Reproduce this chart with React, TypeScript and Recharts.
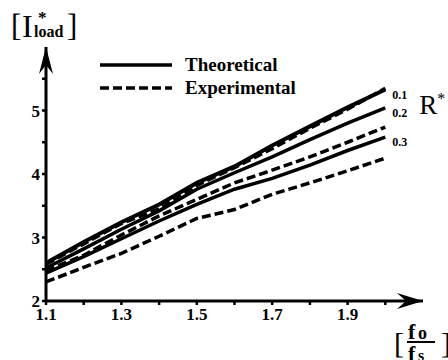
import React from 'react';
import {
  LineChart,
  Line,
  XAxis,
  YAxis,
  Legend,
  LabelList,
  ReferenceDot,
} from 'recharts';

const FONT = '"Liberation Serif", "Times New Roman", serif';

// frequency ratio fo/fs
const FREQ = [1.1, 1.2, 1.3, 1.4, 1.5, 1.6, 1.7, 1.8, 1.9, 2.0];

// normalised load current, R* = 0.1 / 0.2 / 0.3
const THEO_01 = [2.6, 2.93, 3.24, 3.52, 3.86, 4.12, 4.45, 4.75, 5.05, 5.33];
const EXP_01 = [2.58, 2.9, 3.22, 3.45, 3.82, 4.1, 4.4, 4.72, 5.02, 5.35];
const THEO_02 = [2.52, 2.82, 3.13, 3.42, 3.76, 4.02, 4.27, 4.54, 4.8, 5.04];
const EXP_02 = [2.48, 2.72, 3.04, 3.34, 3.6, 3.86, 4.06, 4.27, 4.5, 4.74];
const THEO_03 = [2.44, 2.7, 2.98, 3.26, 3.52, 3.76, 3.93, 4.14, 4.37, 4.58];
const EXP_03 = [2.3, 2.53, 2.75, 3.02, 3.3, 3.44, 3.68, 3.86, 4.05, 4.25];

const X_TICKS = [1.1, 1.2, 1.3, 1.4, 1.5, 1.6, 1.7, 1.8, 1.9, 2.0];
const X_LABELS = ['1.1', '1.3', '1.5', '1.7', '1.9'];
const Y_TICKS = [2, 2.5, 3, 3.5, 4, 4.5, 5, 5.5];
const Y_LABELS = ['2', '3', '4', '5'];

const data = FREQ.map((x, i) => ({
  x,
  t1: THEO_01[i],
  e1: EXP_01[i],
  t2: THEO_02[i],
  e2: EXP_02[i],
  t3: THEO_03[i],
  e3: EXP_03[i],
}));

const tickStyle = { fontFamily: FONT, fontSize: 17, fontWeight: 'bold', fill: '#000' };
const DASH = '9 4';

const endLabel = (text: string, withR = false) => (props: any) => {
  const { x, y, index } = props;
  if (index !== FREQ.length - 1) return null;
  return (
    <g>
      <text x={x + 7} y={y + 9} fontFamily={FONT} fontSize={12} fontWeight="bold" fill="#000">
        {text}
      </text>
      {withR && (
        <text x={x + 34} y={y + 6} fontFamily={FONT} fontSize={27} fill="#000">
          R<tspan dy={-10} fontSize={16}>*</tspan>
        </text>
      )}
    </g>
  );
};

const RightArrow = (props: any) => {
  const { cx, cy } = props;
  return (
    <path
      d={`M${cx},${cy} L${cx - 26},${cy - 8} L${cx - 17},${cy} L${cx - 26},${cy + 8} Z`}
      fill="#000"
    />
  );
};

const UpArrow = (props: any) => {
  const { cx, cy } = props;
  return (
    <path
      d={`M${cx},${cy} L${cx - 7},${cy + 27} L${cx},${cy + 18} L${cx + 7},${cy + 27} Z`}
      fill="#000"
    />
  );
};

const LegendBox = () => (
  <div style={{ fontFamily: FONT, fontSize: 19, fontWeight: 'bold', color: '#000' }}>
    {[
      { name: 'Theoretical', dash: undefined },
      { name: 'Experimental', dash: DASH },
    ].map((item) => (
      <div key={item.name} style={{ display: 'flex', alignItems: 'center', height: 23 }}>
        <svg width={72} height={6}>
          <line x1={0} y1={3} x2={72} y2={3} stroke="#000" strokeWidth={3.5} strokeDasharray={item.dash} />
        </svg>
        <span style={{ marginLeft: 13 }}>{item.name}</span>
      </div>
    ))}
  </div>
);

export default function App() {
  return (
    <div style={{ position: 'absolute', left: 0, top: 0, width: 448, height: 360, background: '#fff', overflow: 'hidden' }}>
      <LineChart width={448} height={360} data={data} margin={{ top: 47, right: 25, bottom: 29, left: 10 }}>
        <XAxis
          dataKey="x"
          type="number"
          domain={[1.1, 2.1]}
          ticks={X_TICKS}
          tickFormatter={(v: number) => (X_LABELS.includes(v.toFixed(1)) ? v.toFixed(1) : '')}
          axisLine={{ stroke: '#000', strokeWidth: 3 }}
          tickLine={{ stroke: '#000', strokeWidth: 2.5 }}
          tickSize={4}
          tickMargin={3}
          tick={tickStyle}
          height={30}
          interval={0}
        />
        <YAxis
          type="number"
          domain={[2, 6]}
          ticks={Y_TICKS}
          tickFormatter={(v: number) => (Y_LABELS.includes(String(v)) ? String(v) : '')}
          axisLine={{ stroke: '#000', strokeWidth: 3 }}
          tickLine={{ stroke: '#000', strokeWidth: 2.5 }}
          tickSize={4}
          tickMargin={2}
          tick={tickStyle}
          width={36}
          interval={0}
        />
        <Legend
          content={<LegendBox />}
          layout="horizontal"
          verticalAlign="middle"
          align="center"
          wrapperStyle={{ position: 'absolute', top: 53, left: 100, width: 240 }}
        />
        <Line dataKey="e3" stroke="#000" strokeWidth={3.5} strokeDasharray={DASH} dot={false} isAnimationActive={false} />
        <Line dataKey="t3" stroke="#000" strokeWidth={3.5} dot={false} isAnimationActive={false}>
          <LabelList dataKey="t3" content={endLabel('0.3')} />
        </Line>
        <Line dataKey="e2" stroke="#000" strokeWidth={3.5} strokeDasharray={DASH} dot={false} isAnimationActive={false} />
        <Line dataKey="t2" stroke="#000" strokeWidth={3.5} dot={false} isAnimationActive={false}>
          <LabelList dataKey="t2" content={endLabel('0.2', true)} />
        </Line>
        <Line dataKey="e1" stroke="#000" strokeWidth={3.5} strokeDasharray={DASH} dot={false} isAnimationActive={false} />
        <Line dataKey="t1" stroke="#000" strokeWidth={4} dot={false} isAnimationActive={false}>
          <LabelList dataKey="t1" content={endLabel('0.1')} />
        </Line>
        <ReferenceDot x={2.1} y={2} r={0} ifOverflow="visible" shape={RightArrow} />
        <ReferenceDot x={1.1} y={6} r={0} ifOverflow="visible" shape={UpArrow} />
      </LineChart>

      {/* y-axis title */}
      <svg width={90} height={46} style={{ position: 'absolute', left: 0, top: 0 }}>
        <text fontFamily={FONT} fill="#000">
          <tspan x={11} y={36} fontSize={31}>[</tspan>
          <tspan x={22} y={37} fontSize={32}>I</tspan>
          <tspan x={38} y={23} fontSize={17} fontWeight="bold">*</tspan>
          <tspan x={34} y={37} fontSize={16} fontWeight="bold">load</tspan>
          <tspan x={67} y={36} fontSize={31}>]</tspan>
        </text>
      </svg>

      {/* x-axis title */}
      <svg width={60} height={40} style={{ position: 'absolute', left: 392, top: 320 }}>
        <text fontFamily={FONT} fill="#000">
          <tspan x={2} y={33} fontSize={30}>[</tspan>
          <tspan x={16} y={19} fontSize={22} fontWeight="bold">f</tspan>
          <tspan x={26} y={19} fontSize={18} fontWeight="bold">o</tspan>
          <tspan x={16} y={41} fontSize={22} fontWeight="bold">f</tspan>
          <tspan x={26} y={41} fontSize={16} fontWeight="bold">s</tspan>
          <tspan x={49} y={33} fontSize={30}>]</tspan>
        </text>
        <line x1={15} y1={22} x2={43} y2={22} stroke="#000" strokeWidth={2} />
      </svg>
    </div>
  );
}
